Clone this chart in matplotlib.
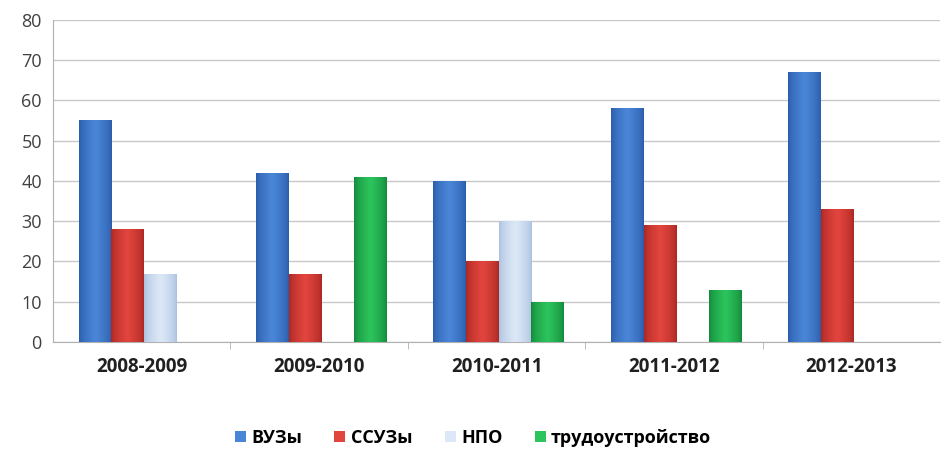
import numpy as np
import matplotlib
matplotlib.use("Agg")
import matplotlib.pyplot as plt
from matplotlib.colors import LinearSegmentedColormap

plt.rcParams['font.family'] = ['Open Sans', 'DejaVu Sans']

years = ['2008-2009', '2009-2010', '2010-2011', '2011-2012', '2012-2013']
vuzy = [55, 42, 40, 58, 67]
ssuzy = [28, 17, 20, 29, 33]
npo = [17, 0, 30, 0, 0]
trud = [0, 41, 10, 13, 0]

# name, values, dark, light
series = [('ВУЗы', vuzy, '#2a5aa8', '#4a86d8'),
          ('ССУЗы', ssuzy, '#a82622', '#e2453e'),
          ('НПО', npo, '#a9c0de', '#dce8f7'),
          ('трудоустройство', trud, '#12863a', '#2cc45c')]

fig = plt.figure(figsize=(9.46, 4.5), dpi=100)
ax = fig.add_axes([0.056, 0.24, 0.938, 0.716])

x = np.arange(len(years))
w = 0.184
grad = np.concatenate([np.linspace(0, 1, 40), np.linspace(1, 0, 40)])
grad = np.abs(grad) ** 0.6
grad = grad.reshape(1, -1)
for i, (name, vals, dark, light) in enumerate(series):
    bars = ax.bar(x + (i - 1.5) * w + 0.012, vals, w, color=light,
                  edgecolor='none', label=name, zorder=3)
    cmap = LinearSegmentedColormap.from_list(name, [dark, light])
    for b in bars:
        if b.get_height() <= 0:
            continue
        x0, y0 = b.get_x(), b.get_y()
        im = ax.imshow(grad, cmap=cmap, aspect='auto', zorder=4,
                       extent=[x0, x0 + b.get_width(), y0, y0 + b.get_height()])
        im.set_clip_path(b)

ax.set_xlim(-0.5, len(years) - 0.5)
ax.set_ylim(0, 80)
ax.set_yticks(range(0, 81, 10))
ax.yaxis.grid(True, color='#c8c8c8', linewidth=1, zorder=0)
ax.tick_params(axis='y', length=0, labelsize=13, colors='#404040', pad=8)
ax.set_xticks(x)
ax.set_xticklabels(years, fontsize=13.5, fontweight='bold', color='#202020')
ax.tick_params(axis='x', length=0, pad=11)
ax.set_xticks(np.arange(0.5, len(years) - 0.5), minor=True)
ax.tick_params(axis='x', which='minor', length=5, color='#b0b0b0')
for s in ['top', 'right']:
    ax.spines[s].set_visible(False)
ax.spines['left'].set_color('#b0b0b0')
ax.spines['bottom'].set_color('#b0b0b0')

fig.legend(loc='center', bbox_to_anchor=(0.5, 0.027), ncol=4, frameon=False,
           prop={'size': 13, 'weight': 'bold'}, handlelength=0.6,
           handleheight=0.6, handletextpad=0.3, columnspacing=1.8)

fig.savefig('out.png', dpi=100)
